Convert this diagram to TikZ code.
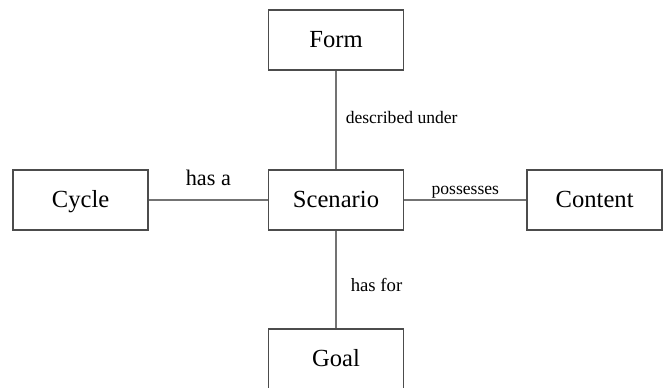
\documentclass[tikz,border=0pt]{standalone}
\usepackage{fontspec}
\setmainfont{Liberation Serif}
\usepackage{tikz}

\begin{document}
\begin{tikzpicture}[box/.style={draw=black!70, line width=1.5pt, minimum width=4.05cm, minimum height=1.8cm, inner sep=0pt, text height=0.6cm, text depth=0.12cm, font=\fontsize{21}{25}\selectfont},
  link/.style={draw=black!55, line width=1.3pt},
  lbl/.style={inner sep=0pt, font=\fontsize{15}{18}\selectfont}]
\useasboundingbox (0,0) rectangle (19.95,11.64);

\node[box] (scenario) at (10.08,5.64) {Scenario};
\node[box] (form) at (10.08,10.44) {Form};
\node[box] (cycle) at (2.42,5.64) {Cycle};
\node[box] (content) at (17.84,5.64) {Content};
\node[box] (goal) at (10.08,0.87) {Goal};

\draw[link] (form) -- node[lbl, pos=0.54, anchor=base west, xshift=0.27cm] (under) {described under} (scenario);
\draw[link] (cycle) -- node[lbl, font=\fontsize{19}{22}\selectfont, anchor=base, yshift=0.42cm] (hasa) {has a} (scenario);
\draw[link] (scenario) -- node[lbl, anchor=base, yshift=0.15cm] (possess) {possesses} (content);
\draw[link] (scenario) -- node[lbl, font=\fontsize{16}{19}\selectfont, pos=0.62, anchor=base west, xshift=0.42cm] (hasfor) {has for} (goal);
\end{tikzpicture}
\end{document}
